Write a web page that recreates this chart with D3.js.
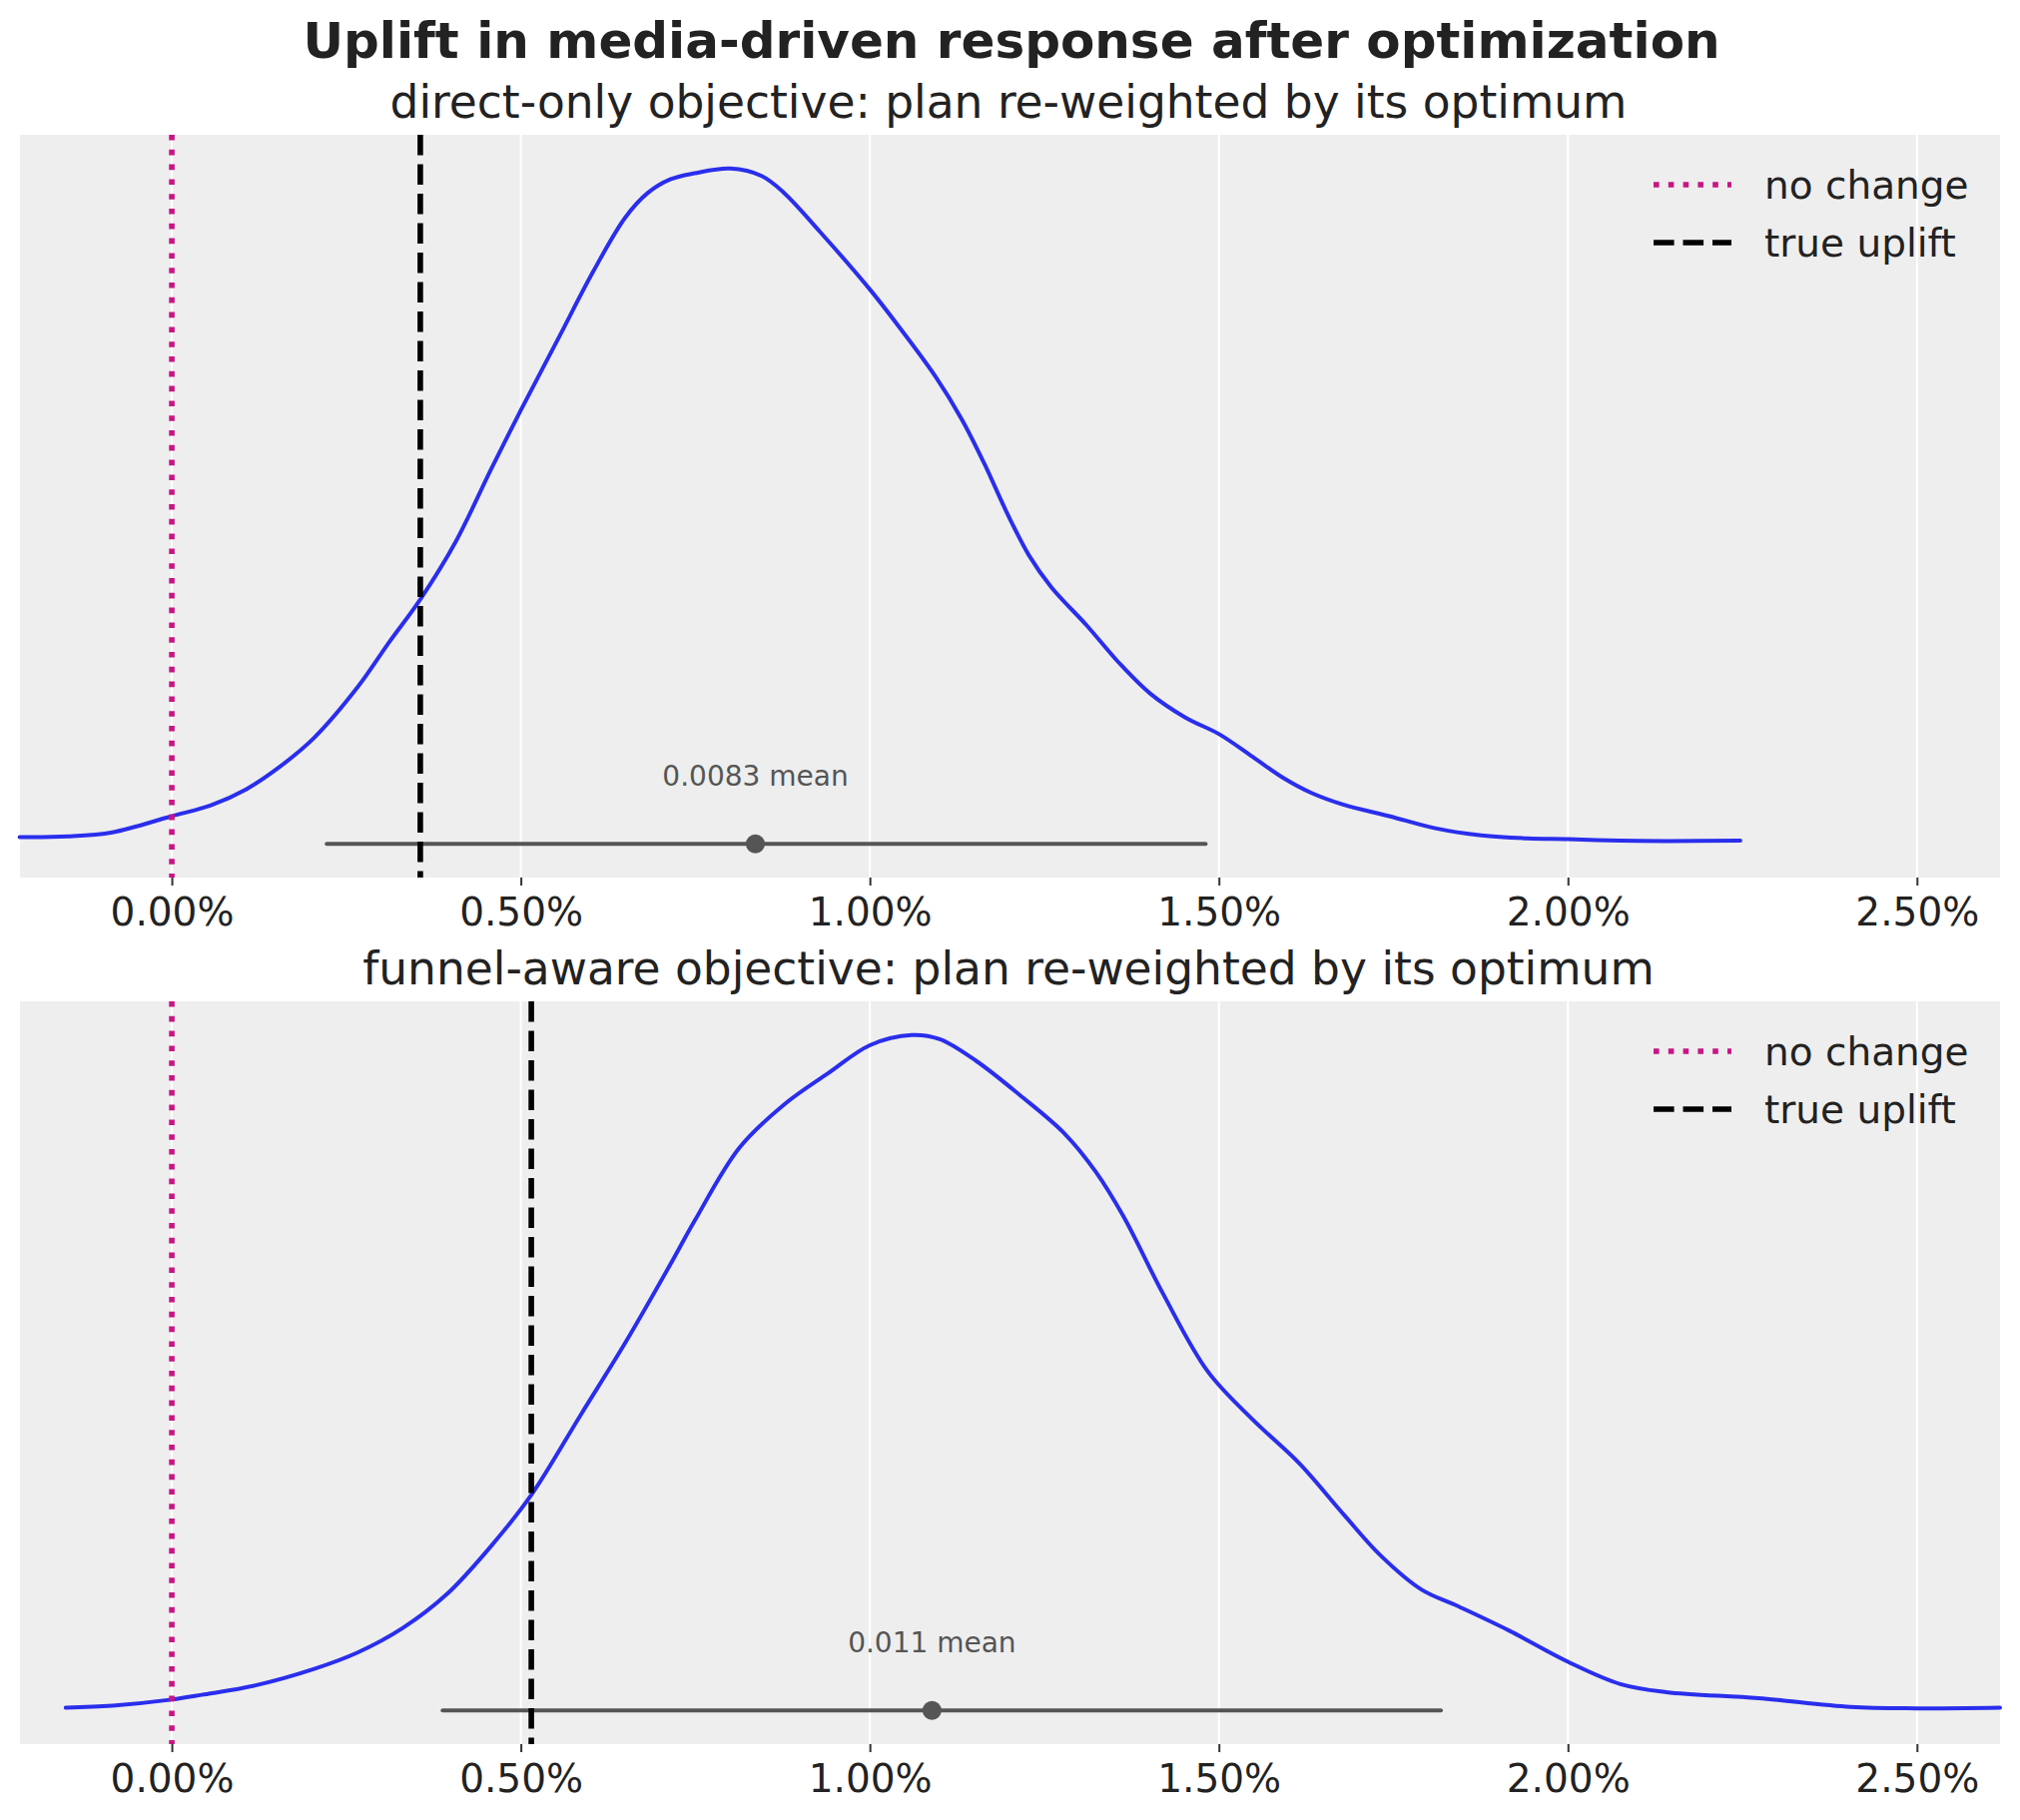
<!DOCTYPE html>
<html>
<head>
<meta charset="utf-8">
<script src="https://cdn.jsdelivr.net/npm/d3@7"></script>
<style>
  body { margin: 0; background: #fff; }
  text { font-family: "DejaVu Sans", sans-serif; }
</style>
</head>
<body>
<svg id="chart"></svg>
<script>
// values
const tickValues = [0, 0.005, 0.01, 0.015, 0.02, 0.025];
const xDomain = [-0.002175, 0.02619];

const panelTitles = [
  "direct-only objective: plan re-weighted by its optimum",
  "funnel-aware objective: plan re-weighted by its optimum"
];

// KDE of uplift (x = uplift fraction, y = density scaled so peak = 1)
const directX = [-0.00218, -0.00149, -0.00085, 0, 0.00056, 0.00107, 0.00152, 0.00203, 0.00267, 0.00311,
  0.00356, 0.00407, 0.00458, 0.005, 0.00554, 0.00605, 0.0065, 0.00682, 0.00714, 0.00749, 0.008, 0.00845,
  0.00877, 0.00928, 0.01, 0.01043, 0.01094, 0.01132, 0.01164, 0.01196, 0.01228, 0.0126, 0.01311, 0.01356,
  0.01401, 0.01452, 0.01501, 0.01548, 0.01593, 0.01631, 0.01678, 0.01744, 0.0181, 0.01876, 0.01942, 0.02,
  0.02075, 0.02141, 0.02247];
const directY = [0.010, 0.011, 0.017, 0.041, 0.057, 0.081, 0.112, 0.156, 0.233, 0.298,
  0.362, 0.448, 0.556, 0.642, 0.749, 0.850, 0.928, 0.964, 0.984, 0.993, 1.0, 0.989,
  0.964, 0.907, 0.821, 0.764, 0.692, 0.628, 0.563, 0.491, 0.427, 0.380, 0.323, 0.269,
  0.223, 0.187, 0.162, 0.129, 0.097, 0.076, 0.058, 0.041, 0.023, 0.0125, 0.008, 0.0068,
  0.0047, 0.004, 0.0047];

const funnelX = [-0.00152, -0.00085, 0, 0.00043, 0.0012, 0.00203, 0.00267, 0.00331, 0.00394, 0.00458,
  0.00515, 0.00586, 0.0065, 0.00714, 0.00749, 0.00813, 0.00877, 0.00941, 0.01, 0.0106, 0.011, 0.01152,
  0.01215, 0.01279, 0.01324, 0.01363, 0.0142, 0.01484, 0.01548, 0.01615, 0.01678, 0.01731, 0.0179,
  0.01843, 0.01916, 0.02, 0.02075, 0.02141, 0.02273, 0.02405, 0.025, 0.02619];
const funnelY = [0.004, 0.007, 0.016, 0.023, 0.037, 0.061, 0.086, 0.122, 0.172, 0.244,
  0.319, 0.438, 0.545, 0.660, 0.725, 0.833, 0.897, 0.944, 0.985, 1.0, 0.994, 0.962,
  0.911, 0.854, 0.797, 0.732, 0.617, 0.502, 0.431, 0.366, 0.291, 0.230, 0.179,
  0.154, 0.118, 0.072, 0.039, 0.027, 0.018, 0.005, 0.003, 0.004];

const means = [0.00836, 0.01089];
const meanLabels = ["0.0083 mean", "0.011 mean"];
const hdiLow = [0.00222, 0.00388];
const hdiHigh = [0.01481, 0.01818];
const trueUplift = [0.00356, 0.00515];
const legendLabels = ["no change", "true uplift"];

const width = 2023, height = 1823;
const svg = d3.select("#chart").attr("width", width).attr("height", height);
svg.append("rect").attr("width", width).attr("height", height).attr("fill", "#fff");

// figure title
svg.append("text")
  .attr("x", 1013).attr("y", 58)
  .attr("text-anchor", "middle")
  .attr("font-size", 50).attr("font-weight", "bold")
  .attr("fill", "#222")
  .text("Uplift in media-driven response after optimization");

const panels = [
  { top: 135, bottom: 879, xs: directX, ys: directY },
  { top: 1003, bottom: 1747, xs: funnelX, ys: funnelY }
];
const left = 20, right = 2003;

const x = d3.scaleLinear().domain(xDomain).range([left, right]);

panels.forEach(function (p, i) {
  const y = d3.scaleLinear().domain([-0.05, 1.05]).range([p.bottom, p.top]);
  const g = svg.append("g");

  // subplot title
  svg.append("text")
    .attr("x", 1010).attr("y", p.top - 17)
    .attr("text-anchor", "middle")
    .attr("font-size", 45.5).attr("fill", "#222")
    .text(panelTitles[i]);

  // axes background
  g.append("rect")
    .attr("x", left).attr("y", p.top)
    .attr("width", right - left).attr("height", p.bottom - p.top)
    .attr("fill", "#eeeeee");

  // vertical grid
  g.selectAll(".grid").data(tickValues).join("line")
    .attr("x1", d => x(d)).attr("x2", d => x(d))
    .attr("y1", p.top).attr("y2", p.bottom)
    .attr("stroke", "#fff").attr("stroke-width", 2);

  // x axis
  const axis = d3.axisBottom(x).tickValues(tickValues).tickFormat(d3.format(".2%"))
    .tickSize(8).tickPadding(12);
  const ax = g.append("g").attr("transform", "translate(0," + p.bottom + ")").call(axis);
  ax.select(".domain").remove();
  ax.selectAll(".tick line").attr("stroke", "#333").attr("stroke-width", 2);
  ax.selectAll(".tick text").attr("font-size", 39).attr("fill", "#222")
    .attr("font-family", "DejaVu Sans, sans-serif");

  // KDE
  const pts = p.xs.map((v, k) => [v, p.ys[k]]);
  g.append("path")
    .datum(pts)
    .attr("d", d3.line().x(d => x(d[0])).y(d => y(d[1])).curve(d3.curveCatmullRom.alpha(0.5)))
    .attr("fill", "none")
    .attr("stroke", "#2a2eec")
    .attr("stroke-width", 4)
    .attr("stroke-linecap", "round");

  // HDI + mean
  g.append("line")
    .attr("x1", x(hdiLow[i])).attr("x2", x(hdiHigh[i]))
    .attr("y1", y(0)).attr("y2", y(0))
    .attr("stroke", "#555").attr("stroke-width", 4).attr("stroke-linecap", "round");
  g.append("circle")
    .attr("cx", x(means[i])).attr("cy", y(0)).attr("r", 9.5)
    .attr("fill", "#555");
  g.append("text")
    .attr("x", x(means[i])).attr("y", y(0.1))
    .attr("text-anchor", "middle").attr("dominant-baseline", "central")
    .attr("font-size", 28).attr("fill", "#555")
    .text(meanLabels[i]);

  // reference lines
  g.append("line")
    .attr("x1", x(0)).attr("x2", x(0)).attr("y1", p.top).attr("y2", p.bottom)
    .attr("stroke", "#c71585").attr("stroke-width", 5.6).attr("stroke-dasharray", "5.6 9.2");
  g.append("line")
    .attr("x1", x(trueUplift[i])).attr("x2", x(trueUplift[i])).attr("y1", p.top).attr("y2", p.bottom)
    .attr("stroke", "#000").attr("stroke-width", 5.6).attr("stroke-dasharray", "20.6 8.9");

  // legend
  const leg = g.append("g");
  [0, 1].forEach(function (k) {
    const ly = p.top + 50 + k * 58;
    leg.append("line")
      .attr("x1", 1656).attr("x2", 1734).attr("y1", ly).attr("y2", ly)
      .attr("stroke", k === 0 ? "#c71585" : "#000")
      .attr("stroke-width", 5.6)
      .attr("stroke-dasharray", k === 0 ? "5.6 9.2" : "20.6 8.9");
    leg.append("text")
      .attr("x", 1767).attr("y", ly)
      .attr("dominant-baseline", "central")
      .attr("font-size", 39).attr("fill", "#222")
      .text(legendLabels[k]);
  });
});
</script>
</body>
</html>
